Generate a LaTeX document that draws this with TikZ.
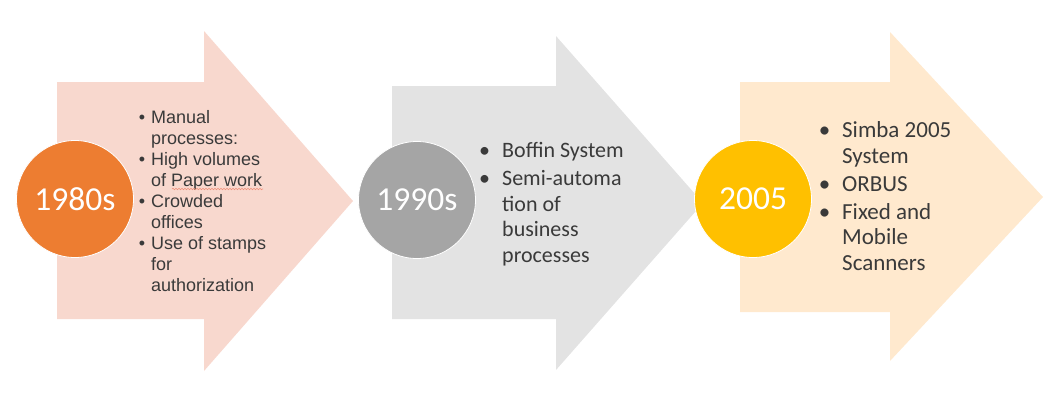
\documentclass[tikz,border=0pt]{standalone}
\usepackage{fontspec}
\setmainfont{Carlito}
\newfontfamily\arialf{Liberation Sans}
\usetikzlibrary{decorations.pathmorphing}
\definecolor{arrA}{HTML}{F8D8CE}
\definecolor{arrB}{HTML}{E3E3E3}
\definecolor{arrC}{HTML}{FFE9CE}
\definecolor{cirA}{HTML}{ED7D31}
\definecolor{cirB}{HTML}{A5A5A5}
\definecolor{cirC}{HTML}{FFC000}
\definecolor{txt}{HTML}{3A3A3A}
\definecolor{squig}{HTML}{F0907A}
\tikzset{
  yearcirc/.style={circle, draw=white, line width=0.8pt, minimum size=117pt, inner sep=0pt,
    text=white, font=\fontsize{33.5}{38}\selectfont},
  listA/.style={anchor=base west, align=left, inner sep=0pt, text=txt,
    font=\arialf\fontsize{18}{21}\selectfont},
  listB/.style={anchor=base west, align=left, inner sep=0pt, text=txt,
    font=\fontsize{22}{25.5}\selectfont},
  listC/.style={anchor=base west, align=left, inner sep=0pt, text=txt,
    font=\fontsize{23}{25.5}\selectfont},
}
\newcommand{\bulA}{\llap{\textbullet\hspace{6pt}}}
\newcommand{\bulB}{\llap{\textbullet\hspace{12pt}}}
\begin{document}
\begin{tikzpicture}[x=1pt,y=-1pt]
\useasboundingbox (0,0) rectangle (1061,418);
% arrows
\fill[arrA] (57,82) -- (204,82) -- (204,31) -- (353,201) -- (204,371) -- (204,319) -- (57,319) -- cycle;
\fill[arrB] (392,86) -- (556,86) -- (556,36) -- (703,203) -- (556,370) -- (556,319) -- (392,319) -- cycle;
\fill[arrC] (740,82) -- (890,82) -- (890,32) -- (1043,197) -- (890,361) -- (890,312) -- (740,312) -- cycle;
% circles
\node[yearcirc, fill=cirA] (c1) at (75,199) {1980s};
\node[yearcirc, fill=cirB] (c2) at (417,200) {1990s};
\node[yearcirc, fill=cirC] (c3) at (753,199) {2005};
% texts (anchored at the baseline of the last line)
\node[listA] (t1) at (151,291) {\bulA Manual\\processes:\\\bulA High volumes\\of Paper work\\\bulA Crowded\\offices\\\bulA Use of stamps\\for\\authorization};
\draw[squig, line width=0.6pt, decoration={snake, amplitude=0.7pt, segment length=3pt}, decorate] (172,189) -- (263,189);
\node[listB] (t2) at (502,262) {\bulB Boffin System\\[2.5pt]\bulB Semi-automa\\tion of\\business\\processes};
\node[listC] (t3) at (842,270) {\bulB Simba 2005\\System\\[2.5pt]\bulB ORBUS\\[2.5pt]\bulB Fixed and\\Mobile\\Scanners};
\end{tikzpicture}
\end{document}
